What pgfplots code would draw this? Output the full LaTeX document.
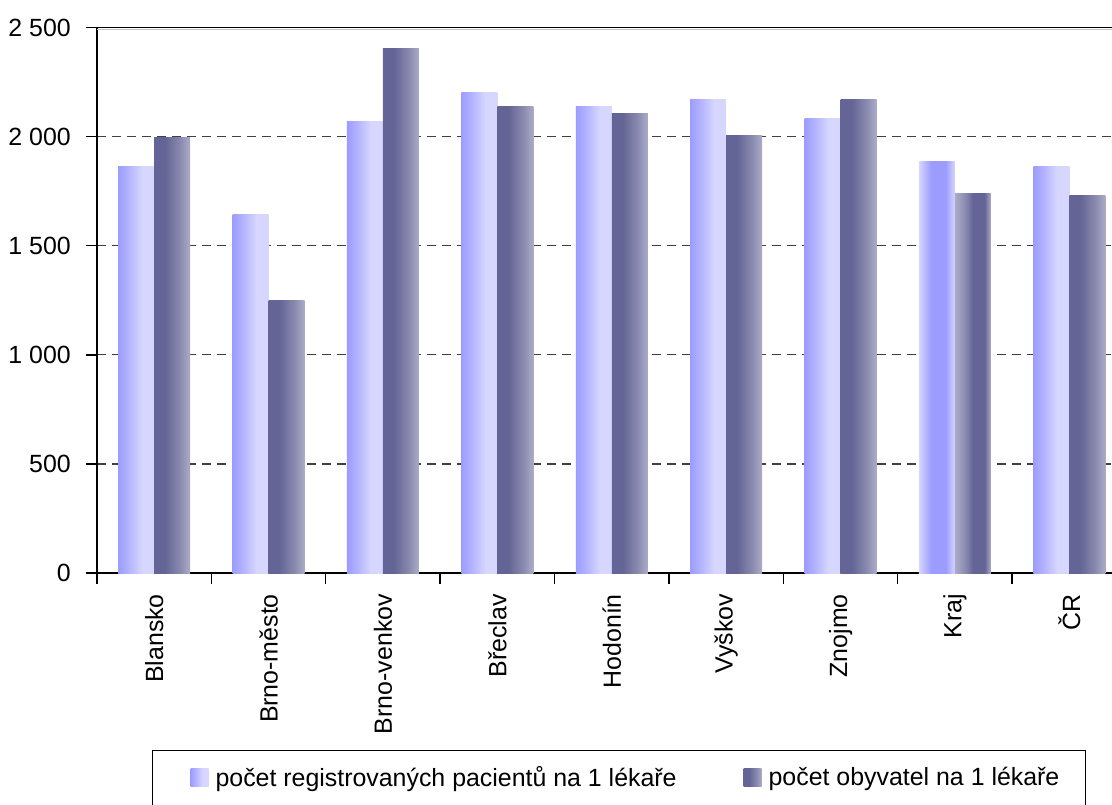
\documentclass[border=0pt]{standalone}
\usepackage{fontspec}
\setmainfont{Liberation Sans}
\usepackage{pgfplots}
\pgfplotsset{compat=1.18}

\definecolor{lbA}{HTML}{9C9CFF}
\definecolor{lbB}{HTML}{B4B4FF}
\definecolor{lbC}{HTML}{D6D6FF}
\definecolor{dbA}{HTML}{646496}
\definecolor{dbB}{HTML}{8888AE}
\definecolor{dbC}{HTML}{ACACC8}
\definecolor{gridgray}{HTML}{404040}

% bar shadings, the middle 25bp..75bp spans the bar
\pgfdeclarehorizontalshading{lightbar}{100bp}{color(0bp)=(lbA); color(25bp)=(lbA); color(40bp)=(lbB); color(58bp)=(lbC); color(100bp)=(lbC)}
\pgfdeclarehorizontalshading{darkbar}{100bp}{color(0bp)=(dbA); color(25bp)=(dbA); color(40bp)=(dbA); color(60bp)=(dbB); color(75bp)=(dbC); color(100bp)=(dbC)}
\pgfdeclarehorizontalshading{lightkraj}{100bp}{color(0bp)=(lbC); color(25bp)=(lbC); color(35bp)=(lbB); color(42bp)=(lbA); color(62bp)=(lbA); color(75bp)=(lbC); color(100bp)=(lbC)}
\pgfdeclarehorizontalshading{darkkraj}{100bp}{color(0bp)=(dbC); color(25bp)=(dbC); color(40bp)=(dbB); color(50bp)=(dbA); color(66bp)=(dbA); color(75bp)=(dbC); color(100bp)=(dbC)}

\newcommand{\lblfont}{\fontsize{25}{29}\selectfont}

\begin{document}
\begin{tikzpicture}
\begin{axis}[
  at={(0,0)}, anchor=south west,
  scale only axis, width=1029.6bp, height=545.5bp,
  xmin=-0.5, xmax=8.5, ymin=0, ymax=2500,
  ybar, bar width=36bp,
  L/.style={draw=none, shading=lightbar, bar shift=-18bp, forget plot},
  D/.style={draw=none, shading=darkbar, bar shift=18bp, forget plot},
  axis line style={line width=1.6bp},
  tick align=outside,
  xtick pos=bottom, ytick pos=left,
  major tick length=11bp,
  tick style={black, line width=1.4bp},
  ytick={0,500,...,2500},
  yticklabel style={font=\lblfont, inner sep=0pt},
  yticklabel shift=15bp,
  /pgf/number format/.cd, 1000 sep={\ }, assume math mode=true,
  /pgfplots/.cd,
  ymajorgrids,
  major grid style={gridgray, line width=1.2bp, dash pattern=on 9bp off 6bp},
  xtick={-0.5,0.5,...,8.5}, xticklabels={},
  extra x ticks={0,...,8},
  extra x tick labels={Blansko,Brno-město,Brno-venkov,Břeclav,Hodonín,Vyškov,Znojmo,Kraj,ČR},
  extra x tick style={major tick length=0pt},
  xticklabel style={font=\lblfont, rotate=90, anchor=east, inner sep=0pt},
  xticklabel shift=21bp,
  legend style={at={(0.0534,-0.3248)}, anchor=north west,
    draw=black, line width=1.2bp, inner xsep=26bp, inner ysep=16bp,
    font=\lblfont, legend columns=2, nodes={inner sep=0pt, text depth=10bp},
    /tikz/every odd column/.append style={column sep=7bp},
    /tikz/every even column/.append style={column sep=67bp}},
  legend cell align=left,
]
% first series: počet registrovaných pacientů na 1 lékaře
\addplot[draw=none, shading=lightbar, bar shift=-18bp,
  legend image code/.code={\path (0bp,0bp); \path[shading=lightbar] (12bp,-5bp) rectangle (30bp,13bp);}]
  coordinates {(0,1865)};
\addlegendentry{počet registrovaných pacientů na 1 lékaře}
% second series: počet obyvatel na 1 lékaře
\addplot[draw=none, shading=darkbar, bar shift=18bp,
  legend image code/.code={\path[shading=darkbar] (0bp,-5bp) rectangle (18bp,13bp);}]
  coordinates {(0,1996)};
\addlegendentry{počet obyvatel na 1 lékaře}
\addplot[L] coordinates {(1,1645)};
\addplot[D] coordinates {(1,1251)};
\addplot[L] coordinates {(2,2067)};
\addplot[D] coordinates {(2,2406)};
\addplot[L] coordinates {(3,2204)};
\addplot[D] coordinates {(3,2140)};
\addplot[L] coordinates {(4,2140)};
\addplot[D] coordinates {(4,2104)};
\addplot[L] coordinates {(5,2168)};
\addplot[D] coordinates {(5,2003)};
\addplot[L] coordinates {(6,2085)};
\addplot[D] coordinates {(6,2168)};
% Kraj bars have a different shading
\addplot[L, shading=lightkraj] coordinates {(7,1884)};
\addplot[D, shading=darkkraj] coordinates {(7,1737)};
\addplot[L] coordinates {(8,1865)};
\addplot[D] coordinates {(8,1728)};
\draw[gray!45, line width=0.9bp] ([yshift=-2.2bp]rel axis cs:0,1) -- ([yshift=-2.2bp]rel axis cs:1,1);
\end{axis}
\pgfresetboundingbox
\useasboundingbox (-97bp,-232bp) rectangle (1015bp,573bp);
\end{tikzpicture}
\end{document}
